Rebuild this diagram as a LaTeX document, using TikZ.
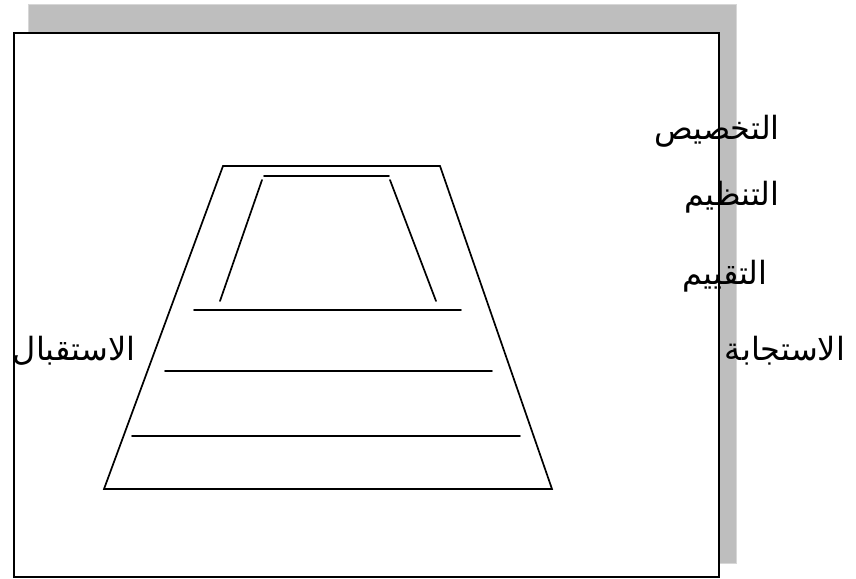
\documentclass[tikz,border=0pt]{standalone}
\usepackage{fontspec}
\TeXXeTstate=1
\newfontfamily\arabicfont[Script=Arabic]{DejaVu Sans}
\definecolor{shadowgray}{RGB}{190,190,190}
\definecolor{shadowedge}{RGB}{215,215,215}
\tikzset{
  lbl/.style={inner sep=0pt, font=\arabicfont\fontsize{32}{36}\selectfont},
  ln/.style={line width=1.7pt, line cap=round}
}
\begin{document}
\begin{tikzpicture}[x=1pt,y=-1pt]
\useasboundingbox (0,0) rectangle (856,578);
% shadow and frame
\filldraw[fill=shadowgray, draw=shadowedge, line width=0.8pt] (28,4.5) rectangle (736,563);
\filldraw[fill=white, draw=black, line width=1.6pt] (14,33) rectangle (719,577);
% outer trapezoid
\coordinate (obl) at (104,489);
\coordinate (obr) at (552,489);
\coordinate (otl) at (223,166);
\coordinate (otr) at (440,166);
\draw[ln, line join=miter] (obl) -- (otl) -- (otr) -- (obr) -- cycle;
% inner trapezoid
\coordinate (itl) at (264,176);
\coordinate (itr) at (389,176);
\coordinate (ill1) at (262,180);
\coordinate (ill2) at (220,301);
\coordinate (irl1) at (390,180);
\coordinate (irl2) at (436,301);
\draw[ln] (itl) -- (itr);
\draw[ln] (ill1) -- (ill2);
\draw[ln] (irl1) -- (irl2);
% horizontal levels
\coordinate (h1a) at (194,310); \coordinate (h1b) at (461,310);
\coordinate (h2a) at (165,371); \coordinate (h2b) at (492,371);
\coordinate (h3a) at (132,436); \coordinate (h3b) at (520,436);
\draw[ln] (h1a) -- (h1b);
\draw[ln] (h2a) -- (h2b);
\draw[ln] (h3a) -- (h3b);
% labels
\node[lbl, anchor=base] (t1) at (717,139) {\beginR التخصيص\endR};
\node[lbl, anchor=base] (t2) at (732,205) {\beginR التنظيم\endR};
\node[lbl, anchor=base] (t3) at (725,284) {\beginR التقييم\endR};
\node[lbl, anchor=base] (t4) at (785,360) {\beginR الاستجابة\endR};
\node[lbl, anchor=base] (t5) at (74,360) {\beginR الاستقبال\endR};
\end{tikzpicture}
\end{document}
